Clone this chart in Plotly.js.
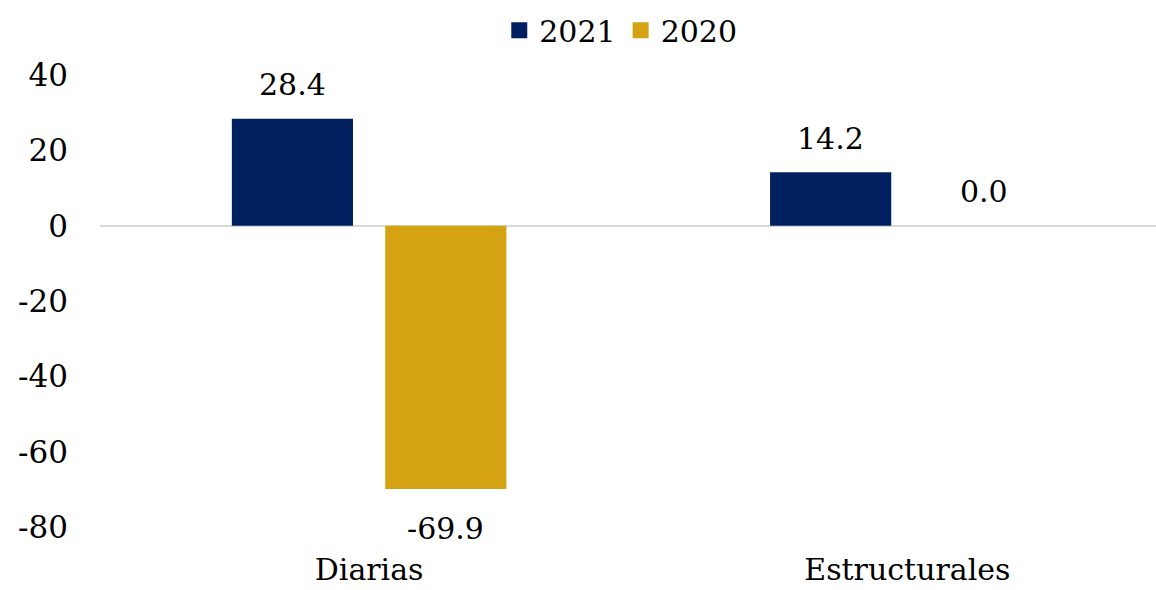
<!DOCTYPE html>
<html>
<head>
<meta charset="utf-8">
<script src="https://cdn.plot.ly/plotly-3.0.1.min.js"></script>
<style>html,body{margin:0;padding:0;background:#fff;}#chart{width:1156px;height:590px;}</style>
</head>
<body>
<div id="chart"></div>
<script>
const categories = ["Diarias", "Estructurales"];
const seriesNames = ["2021", "2020"];
const values2021 = [28.4, 14.2];
const values2020 = [-69.9, 0.0];
const colors = ["#002060", "#D4A212"];
const yTicks = [-80, -60, -40, -20, 0, 20, 40];

const FONT = "DejaVu Serif";
const allValues = [values2021, values2020];

const traces = allValues.map((vals, i) => ({
  type: "bar",
  name: seriesNames[i],
  x: categories,
  y: vals,
  marker: {color: colors[i]},
  showlegend: false,
  hoverinfo: "skip"
}));

seriesNames.forEach((nm, i) => {
  traces.push({
    type: "scatter",
    mode: "markers",
    name: nm,
    x: [null],
    y: [null],
    marker: {symbol: "square", size: 16, color: colors[i]},
    showlegend: true,
    hoverinfo: "skip"
  });
});

const annotations = [];
allValues.forEach((vals, i) => {
  vals.forEach((v, j) => {
    annotations.push({
      x: j + (i === 0 ? -0.1425 : 0.1425),
      y: v,
      xref: "x",
      yref: "y",
      text: v.toFixed(1),
      showarrow: false,
      yshift: v >= 0 ? 34 : -40,
      font: {family: FONT, size: 30, color: "#000"}
    });
  });
});

const layout = {
  width: 1156,
  height: 590,
  margin: {l: 100, r: 0, t: 75, b: 63},
  paper_bgcolor: "#fff",
  plot_bgcolor: "#fff",
  font: {family: FONT, size: 30, color: "#000"},
  barmode: "group",
  bargap: 0.43,
  bargroupgap: 0.21,
  showlegend: true,
  legend: {
    orientation: "h",
    xref: "container",
    yref: "container",
    x: 0.537,
    y: 0.993,
    xanchor: "center",
    yanchor: "top",
    font: {family: FONT, size: 30, color: "#000"},
    itemwidth: 30,
    tracegroupgap: 0
  },
  xaxis: {
    type: "category",
    range: [-0.5, 1.462],
    showgrid: false,
    showline: false,
    zeroline: false,
    ticks: "",
    ticklabelstandoff: 22,
    tickfont: {family: FONT, size: 30, color: "#000"},
    fixedrange: true
  },
  yaxis: {
    range: [-80, 40],
    tickvals: yTicks,
    ticktext: yTicks.map(String),
    showgrid: false,
    showline: false,
    zeroline: true,
    zerolinecolor: "#d9d9d9",
    zerolinewidth: 2,
    ticks: "",
    ticklabelstandoff: 31,
    tickfont: {family: FONT, size: 31, color: "#000"},
    fixedrange: true
  },
  annotations: annotations
};

Plotly.newPlot("chart", traces, layout, {displayModeBar: false, staticPlot: true});
</script>
</body>
</html>
